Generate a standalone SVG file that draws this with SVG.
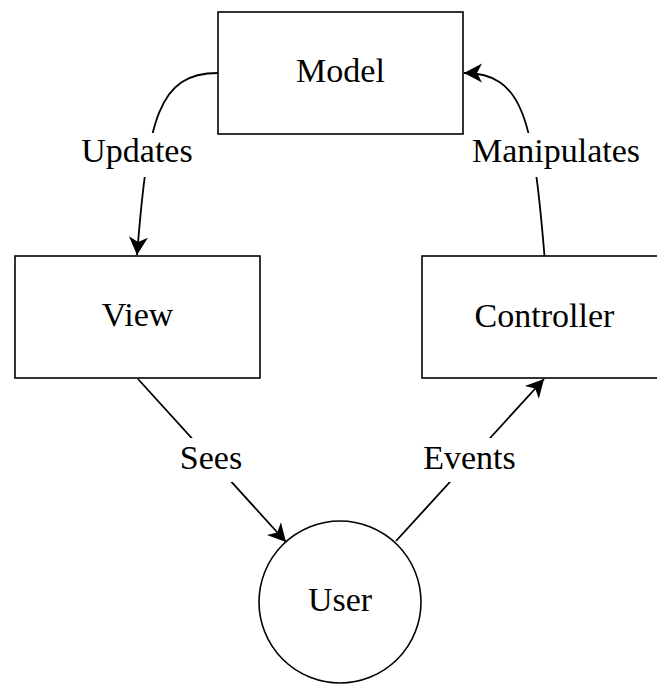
<svg xmlns="http://www.w3.org/2000/svg" width="657" height="684" viewBox="0 0 657 684">
<style>
.node{fill:#fff;stroke:#000;stroke-width:1.6}
.edge{fill:none;stroke:#000;stroke-width:1.8}
text{font-family:"Liberation Serif","Times New Roman",serif;font-size:34px;fill:#000;text-anchor:middle}
.lblbg{fill:#fff;stroke:none}
</style>
<defs>
<marker id="arr" viewBox="-20 -11 22 22" refX="0" refY="0" markerWidth="22" markerHeight="22" markerUnits="userSpaceOnUse" orient="auto">
<path d="M0,0 L-18,-9.5 L-13,0 L-18,9.5 Z" fill="#000"/>
</marker>
</defs>
<rect width="657" height="684" fill="#fff"/>
<g id="connectors">
<path class="edge" d="M218,73 C158,73 148,118 137,255" marker-end="url(#arr)"/>
<path class="edge" d="M544.5,256 C533,118 523,73 464,73" marker-end="url(#arr)"/>
<path class="edge" d="M138,379 L286,542" marker-end="url(#arr)"/>
<path class="edge" d="M396,541 L544,379" marker-end="url(#arr)"/>
<g id="labels">
<rect class="lblbg" x="80" y="133" width="115" height="44"/>
<text x="137" y="162" font-family="Liberation Serif, serif">Updates</text>
<rect class="lblbg" x="469" y="133" width="174" height="44"/>
<text x="556" y="162" font-family="Liberation Serif, serif">Manipulates</text>
<rect class="lblbg" x="178" y="438" width="66" height="44"/>
<text x="211" y="469" font-family="Liberation Serif, serif">Sees</text>
<rect class="lblbg" x="421" y="438" width="97" height="44"/>
<text x="469.5" y="469" font-family="Liberation Serif, serif">Events</text>
</g>
</g>
<g id="model">
<rect class="node" x="218" y="12" width="245" height="122"/>
<text x="340.5" y="82" font-family="Liberation Serif, serif">Model</text>
</g>
<g id="view">
<rect class="node" x="15" y="256" width="245" height="122"/>
<text x="137.5" y="326" font-family="Liberation Serif, serif">View</text>
</g>
<g id="controller">
<rect class="node" x="422" y="256" width="245" height="122"/>
<text x="544.5" y="327" font-family="Liberation Serif, serif">Controller</text>
</g>
<g id="user">
<circle class="node" cx="340" cy="602" r="81"/>
<text x="340" y="611" font-family="Liberation Serif, serif">User</text>
</g>
</svg>
